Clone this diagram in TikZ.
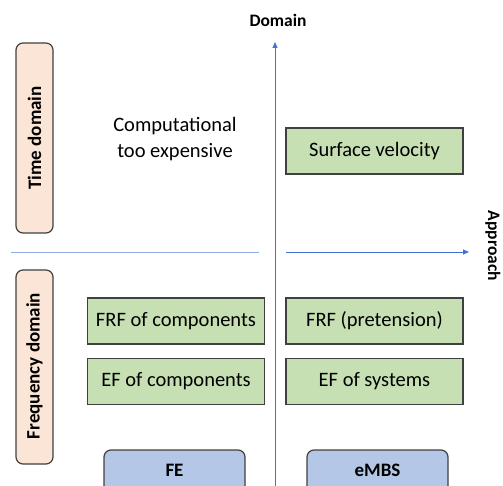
\documentclass[tikz,border=0pt]{standalone}
\usepackage{fontspec}
\setmainfont{Carlito}
\usetikzlibrary{arrows.meta}
\definecolor{boxgreen}{RGB}{198,224,180}
\definecolor{boxblue}{RGB}{180,199,231}
\definecolor{boxpeach}{RGB}{251,229,214}
\definecolor{axisblue}{RGB}{68,114,210}
\definecolor{edgegray}{RGB}{64,64,64}
\tikzset{
  result/.style={draw=edgegray, line width=1.2pt, fill=boxgreen, minimum width=177pt,
    minimum height=46pt, inner sep=0pt, font=\fontsize{20.5}{23}\selectfont},
  method/.style={draw=edgegray, line width=1.2pt, fill=boxblue, rounded corners=7pt,
    minimum width=141pt, minimum height=50pt, inner sep=0pt},
  methodlabel/.style={font=\bfseries\fontsize{19}{21}\selectfont, inner sep=0pt},
  domainbox/.style={draw=edgegray, line width=1.2pt, fill=boxpeach, rounded corners=7pt,
    minimum width=37pt, inner sep=0pt},
  domainlabel/.style={font=\bfseries\fontsize{19}{21}\selectfont, rotate=90, inner sep=0pt},
  axis/.style={draw=axisblue, line width=0.85pt},
  axislabel/.style={font=\bfseries\fontsize{17.5}{19}\selectfont, inner sep=0pt}
}
\begin{document}
\begin{tikzpicture}[x=1pt,y=-1pt]
\useasboundingbox (0,0) rectangle (503,486);
\clip (0,0) rectangle (503,486);

% axes
\coordinate (vtop) at (275,42);
\coordinate (vbot) at (275,490);
\draw[axis, -{Triangle[length=6pt,width=5pt]}] (vbot) -- (vtop);
\coordinate (hl1) at (11,252);
\coordinate (hl2) at (259,252);
\draw[axis, draw=axisblue!60] (hl1) -- (hl2);
\coordinate (hr1) at (286,252);
\coordinate (hr2) at (469,252);
\draw[axis, -{Triangle[length=6pt,width=5pt]}] (hr1) -- (hr2);
\node[axislabel] (domain) at (278,20) {Domain};
\node[axislabel, rotate=-90] (approach) at (493,246) {Approach};

% domain labels
\node[domainbox, minimum height=190pt] (timebox) at (34.5,138) {};
\node[domainlabel] (time) at (34.5,138) {Time domain};
\node[domainbox, minimum height=194pt] (freqbox) at (34.5,367) {};
\node[domainlabel] (freq) at (34.5,366) {Frequency domain};

% time-domain row
\node[font=\fontsize{20.5}{26}\selectfont, align=center, inner sep=0pt] (comp) at (175,139)
  {Computational\\too expensive};
\node[result] (surf) at (374.5,151) {Surface velocity};

% frequency-domain rows
\node[result] (frfc) at (176,321) {FRF of components};
\node[result] (frfp) at (374.5,321) {FRF (pretension)};
\node[result] (efc) at (176,381.5) {EF of components};
\node[result] (efs) at (374.5,381.5) {EF of systems};

% approaches
\node[method] (fe) at (174.5,475) {};
\node[methodlabel] at (174.5,470) {FE};
\node[method] (embs) at (377.5,475) {};
\node[methodlabel] at (377.5,470) {eMBS};
\end{tikzpicture}
\end{document}
